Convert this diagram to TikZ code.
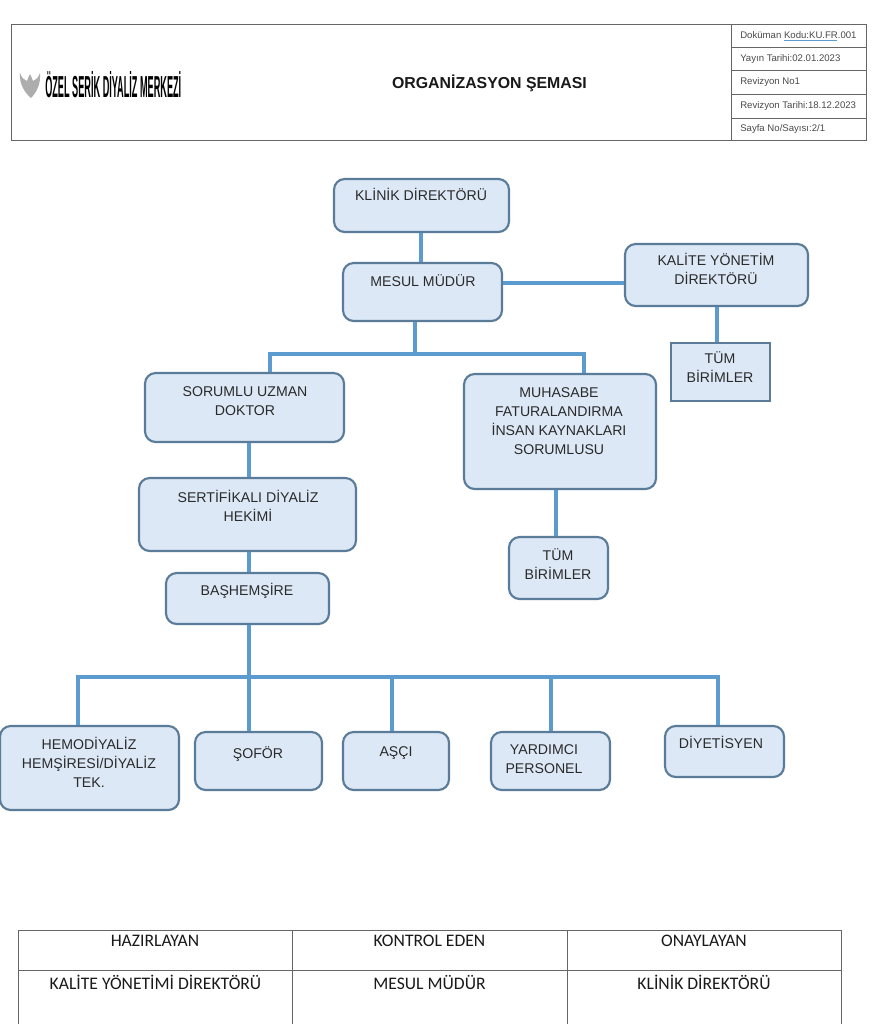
\documentclass[tikz,border=0pt]{standalone}
\usepackage{fontspec}
\setmainfont{Liberation Sans}
\newfontfamily\calibrifont{Carlito}
\definecolor{boxfill}{HTML}{DCE8F6}
\definecolor{boxline}{HTML}{5B7C99}
\definecolor{conn}{HTML}{5B9BD0}
\definecolor{tblline}{HTML}{666666}
\definecolor{txt}{HTML}{2A2A2A}
\tikzset{
  orgbox/.style={draw=boxline,fill=boxfill,line width=1.6pt,rounded corners=8pt,inner sep=0pt},
  sqbox/.style={draw=boxline,fill=boxfill,line width=1.6pt,inner sep=0pt},
  orglabel/.style={font=\fontsize{10.6}{14.3}\selectfont,text=txt,align=center,inner sep=0pt,anchor=north},
  link/.style={draw=conn,line width=3pt},
  tbl/.style={draw=tblline,line width=0.75pt},
  metatext/.style={font=\fontsize{7.2}{8}\selectfont,text=txt!85,anchor=west,inner sep=0pt},
  foot/.style={font=\calibrifont\fontsize{13.2}{15}\selectfont,text=black!90,inner sep=0pt}
}
% name, x1, y1, x2, y2, style, cx, top of text, text
\newcommand{\orgnode}[9]{%
  \node[#6,minimum width=#4pt*0.75-#2pt*0.75,minimum height=#5pt*0.75-#3pt*0.75] (#1) at ({(#2+#4)/2},{(#3+#5)/2}) {};
  \node[orglabel] (#1text) at (#7,#8) {#9};
}
\begin{document}
\begin{tikzpicture}[x=0.75pt,y=-0.75pt]
\useasboundingbox (0,0) rectangle (878,1024);
\fill[white] (0,0) rectangle (878,1024);
% header
\node[tbl,draw,minimum width=855*0.75pt,minimum height=115*0.75pt,inner sep=0pt] (header) at (438.5,82.5) {};
\coordinate (hv) at (731,0);
\draw[tbl] (header.north -| hv) -- (header.south -| hv);
\foreach \y in {48,71,95,118}{\draw[tbl] (731,\y) -- (866,\y);}
\node[metatext] (m1) at (740,35.5) {Doküman Kodu:KU.FR.001};
\draw[conn,line width=.5pt] (784,40.5) -- (837,40.5);
\node[metatext] (m2) at (740,59) {Yayın Tarihi:02.01.2023};
\node[metatext] (m3) at (740,82.5) {Revizyon No1};
\node[metatext] (m4) at (740,106) {Revizyon Tarihi:18.12.2023};
\node[metatext] (m5) at (740,129) {Sayfa No/Sayısı:2/1};
\node[font=\bfseries\fontsize{11.9}{14}\selectfont,text=black!90,inner sep=0pt] (title) at (489.5,83) {ORGANİZASYON ŞEMASI};
% logo
\fill[black!32] (20,73) .. controls (22,78) and (24,80) .. (27,81) .. controls (28,78) and (29,76) .. (30,74) .. controls (31,76) and (32,78) .. (33,81) .. controls (36,80) and (38,78) .. (40,73) .. controls (41,83) and (37,92) .. (31,98) .. controls (25,93) and (19,84) .. (20,73) -- cycle;
\node[inner sep=0pt,anchor=west] (logotext) at (45,84.5) {\resizebox{102pt}{19.5pt}{\bfseries ÖZEL SERİK DİYALİZ MERKEZİ}};
% boxes
\orgnode{klinik}{334}{179}{509}{232}{orgbox}{421}{188}{KLİNİK DİREKTÖRÜ}
\orgnode{mesul}{343}{263}{502}{321}{orgbox}{423}{274}{MESUL MÜDÜR}
\orgnode{kalite}{625}{244}{808}{306}{orgbox}{716}{253}{KALİTE YÖNETİM\\DİREKTÖRÜ}
\orgnode{tum}{671}{343}{770}{401}{sqbox}{720}{351}{TÜM\\BİRİMLER}
\orgnode{sorumlu}{145}{373}{344}{442}{orgbox}{245}{386}{SORUMLU UZMAN\\DOKTOR}
\orgnode{muhasebe}{464}{374}{656}{489}{orgbox}{559}{387}{MUHASABE\\FATURALANDIRMA\\İNSAN KAYNAKLARI\\SORUMLUSU}
\orgnode{tumb}{509}{537}{608}{599}{orgbox}{558}{548}{TÜM\\BİRİMLER}
\orgnode{sertif}{139}{478}{356}{551}{orgbox}{248}{490}{SERTİFİKALI DİYALİZ\\HEKİMİ}
\orgnode{bas}{166}{573}{329}{624}{orgbox}{247}{583}{BAŞHEMŞİRE}
\orgnode{hemo}{0}{726}{179}{810}{orgbox}{89}{737}{HEMODİYALİZ\\HEMŞİRESİ/DİYALİZ\\TEK.}
\orgnode{sofor}{195}{732}{322}{790}{orgbox}{258}{746}{ŞOFÖR}
\orgnode{asci}{343}{732}{449}{790}{orgbox}{396}{746}{AŞÇI}
\orgnode{yard}{491}{732}{610}{790}{orgbox}{544}{744}{YARDIMCI\\PERSONEL}
\orgnode{diyet}{665}{726}{784}{777}{orgbox}{721}{736}{DİYETİSYEN}
% connectors
\coordinate (c1) at (421,0);
\coordinate (c2) at (717,0);
\coordinate (busA) at (415,354);
\coordinate (busAl) at (270,354);
\coordinate (busAr) at (584,354);
\coordinate (c3) at (249,0);
\coordinate (busB) at (249,677);
\coordinate (busBa) at (78,677);
\coordinate (busBc) at (392,677);
\coordinate (busBd) at (551,677);
\coordinate (busBe) at (718,677);
\coordinate (c4) at (556,0);
\coordinate (hy) at (0,283);
\draw[link] (klinik.south -| c1) -- (mesul.north -| c1);
\draw[link] (mesul.east |- hy) -- (kalite.west |- hy);
\draw[link] (kalite.south -| c2) -- (tum.north -| c2);
\draw[link] (mesul.south -| busA) -- (busA);
\draw[link,line join=miter] (sorumlu.north -| busAl) -- (busAl) -- (busAr) -- (muhasebe.north -| busAr);
\draw[link] (sorumlu.south -| c3) -- (sertif.north -| c3);
\draw[link] (sertif.south -| c3) -- (bas.north -| c3);
\draw[link] (muhasebe.south -| c4) -- (tumb.north -| c4);
\draw[link] (bas.south -| c3) -- (sofor.north -| c3);
\draw[link] (hemo.north -| busBa) -- (busBa) -- (busBe) -- (diyet.north -| busBe);
\draw[link] (busBc) -- (asci.north -| busBc);
\draw[link] (busBd) -- (yard.north -| busBd);
% footer table (runs off the page at the bottom)
\draw[tbl] (18,1024) -- (18,930) -- (841,930) -- (841,1024);
\draw[tbl] (18,970) -- (841,970);
\draw[tbl] (292,930) -- (292,1024);
\draw[tbl] (567,930) -- (567,1024);
\node[foot] (f1) at (155,941) {HAZIRLAYAN};
\node[foot] (f2) at (429.5,941) {KONTROL EDEN};
\node[foot] (f3) at (704,941) {ONAYLAYAN};
\node[foot] (f4) at (155.5,982) {KALİTE YÖNETİMİ DİREKTÖRÜ};
\node[foot] (f5) at (429.5,982) {MESUL MÜDÜR};
\node[foot] (f6) at (704,982) {KLİNİK DİREKTÖRÜ};
\end{tikzpicture}
\end{document}
